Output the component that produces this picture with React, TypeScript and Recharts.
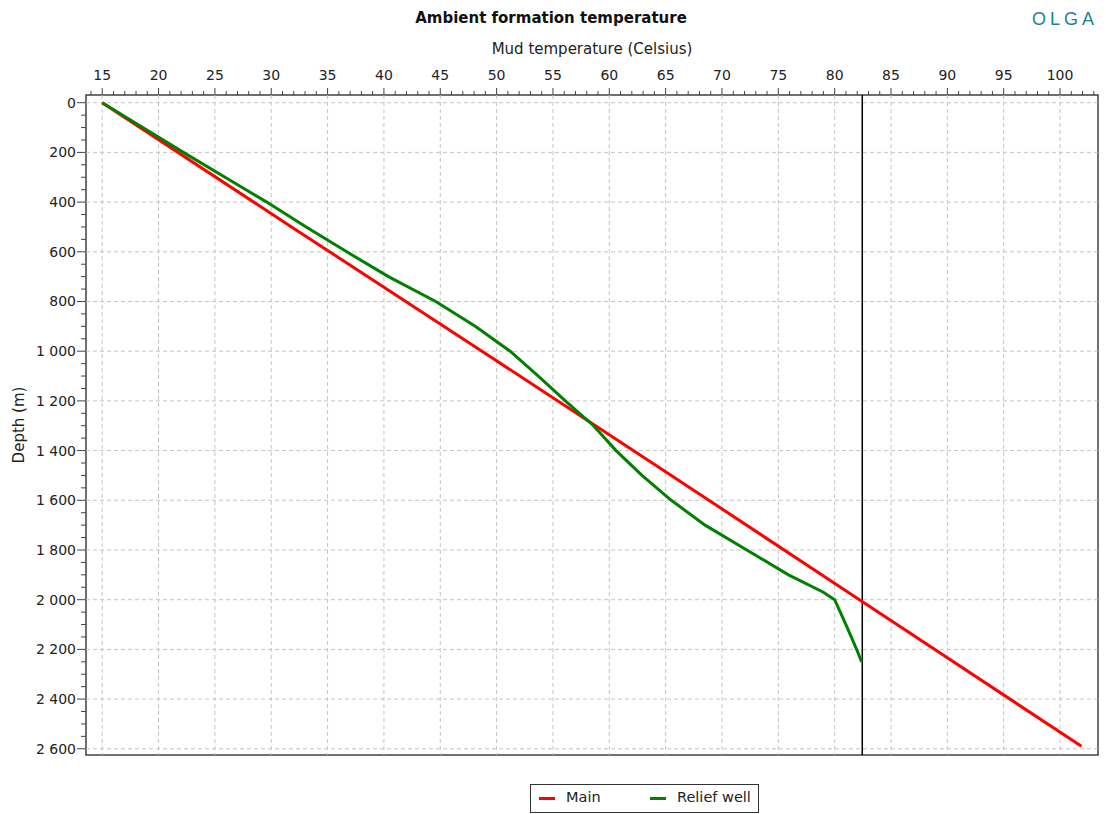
import React from "react";
import {
  ScatterChart,
  Scatter,
  XAxis,
  YAxis,
  ReferenceLine,
  ReferenceArea,
  Legend,
  Label,
} from "recharts";

// Main well: depth (m) vs ambient formation temperature (C)
const mainDepth = [0, 500, 1000, 1500, 2000, 2590];
const mainTemp = [15, 31.8, 48.7, 65.5, 82.2, 101.9];

// Relief well
const reliefDepth = [
  0, 100, 200, 300, 400, 500, 600, 700, 800, 900, 1000, 1100, 1200, 1300,
  1400, 1500, 1600, 1700, 1800, 1900, 1970, 2000, 2100, 2200, 2250,
];
const reliefTemp = [
  15, 18.6, 22.2, 25.9, 29.6, 33.1, 36.7, 40.4, 44.6, 48.1, 51.2, 53.7, 56.1,
  58.6, 60.6, 62.9, 65.5, 68.5, 72.2, 75.9, 79.0, 80.0, 81.0, 81.95, 82.4,
];

const xMajorTicks = [15, 20, 25, 30, 35, 40, 45, 50, 55, 60, 65, 70, 75, 80, 85, 90, 95, 100];
const yMajorTicks = [0, 200, 400, 600, 800, 1000, 1200, 1400, 1600, 1800, 2000, 2200, 2400, 2600];
const markerTemp = 82.45;

const X_MIN = 13.56;
const X_MAX = 103.37;
const Y_MIN = -31;
const Y_MAX = 2625;

const xAllTicks: number[] = [];
for (let v = 14; v <= 103; v++) xAllTicks.push(v);
const yAllTicks: number[] = [];
for (let v = 0; v <= 2600; v += 50) yAllTicks.push(v);

const mainData = mainDepth.map((d, i) => ({ depth: d, temp: mainTemp[i] }));
const reliefData = reliefDepth.map((d, i) => ({ depth: d, temp: reliefTemp[i] }));

const FONT = '"DejaVu Sans", Verdana, sans-serif';
const TEXT = "#222";

const fmtDepth = (n: number) =>
  n >= 1000 ? `${Math.floor(n / 1000)} ${String(n % 1000).padStart(3, "0")}` : String(n);

function XTick(props: any) {
  const { x, y, payload } = props;
  const v = payload.value;
  const axisY = y + 8;
  const major = v % 5 === 0;
  return (
    <g>
      <line x1={x} x2={x} y1={axisY} y2={axisY - (major ? 7 : 4)} stroke="#444" />
      {major && (
        <text x={x} y={axisY - 15} textAnchor="middle" fontSize={14} fill={TEXT} fontFamily={FONT}>
          {v}
        </text>
      )}
    </g>
  );
}

function YTick(props: any) {
  const { x, y, payload } = props;
  const v = payload.value;
  const axisX = x + 10;
  const major = v % 200 === 0;
  return (
    <g>
      <line x1={axisX} x2={axisX - (major ? 9 : 5)} y1={y} y2={y} stroke="#444" />
      {major && (
        <text x={axisX - 10} y={y + 5} textAnchor="end" fontSize={14} fill={TEXT} fontFamily={FONT}>
          {fmtDepth(v)}
        </text>
      )}
    </g>
  );
}

function DepthLabel(props: any) {
  const { viewBox } = props;
  const cx = 19;
  const cy = viewBox.y + viewBox.height / 2;
  return (
    <text
      x={cx}
      y={cy}
      transform={`rotate(-90 ${cx} ${cy})`}
      textAnchor="middle"
      dominantBaseline="central"
      fontSize={15}
      fill={TEXT}
      fontFamily={FONT}
    >
      Depth (m)
    </text>
  );
}

function LegendBox() {
  return (
    <div
      style={{
        position: "relative",
        width: 227,
        height: 27,
        border: "1px solid #333",
        fontFamily: FONT,
        fontSize: 14.5,
        color: TEXT,
        background: "#fff",
      }}
    >
      <div style={{ position: "absolute", left: 8, top: 12, width: 16, height: 3, background: "#ff0000" }} />
      <span style={{ position: "absolute", left: 35, top: 4 }}>Main</span>
      <div style={{ position: "absolute", left: 119, top: 12, width: 16, height: 3, background: "#008000" }} />
      <span style={{ position: "absolute", left: 146, top: 4 }}>Relief well</span>
    </div>
  );
}

export default function App() {
  return (
    <div style={{ position: "absolute", left: 0, top: 0, width: 1106, height: 814, background: "#fff" }}>
      <div
        style={{
          position: "absolute",
          left: 0,
          width: 1102,
          top: 9,
          textAlign: "center",
          fontFamily: FONT,
          fontWeight: "bold",
          fontSize: 15,
          color: "#111",
        }}
      >
        Ambient formation temperature
      </div>
      <div
        style={{
          position: "absolute",
          left: 1032,
          top: 9,
          fontFamily: '"Liberation Sans", Arial, sans-serif',
          fontSize: 18,
          letterSpacing: 4,
          color: "#1f7f8f",
        }}
      >
        OLGA
      </div>
      <ScatterChart
        width={1106}
        height={814}
        margin={{ top: 35, right: 8, bottom: 30, left: 10 }}
        style={{ fontFamily: FONT }}
      >
        <XAxis
          type="number"
          dataKey="temp"
          orientation="top"
          domain={[X_MIN, X_MAX]}
          ticks={xAllTicks}
          interval={0}
          allowDataOverflow
          height={60}
          axisLine={false}
          tickLine={false}
          tickSize={0}
          tickMargin={8}
          tick={<XTick />}
        >
          <Label
            value="Mud temperature (Celsius)"
            position="insideTop"
            offset={8}
            fontSize={15}
            fill={TEXT}
            fontFamily={FONT}
          />
        </XAxis>
        <YAxis
          type="number"
          dataKey="depth"
          reversed
          domain={[Y_MIN, Y_MAX]}
          ticks={yAllTicks}
          interval={0}
          allowDataOverflow
          width={76}
          axisLine={false}
          tickLine={false}
          tickSize={0}
          tickMargin={10}
          tick={<YTick />}
        >
          <Label content={<DepthLabel />} />
        </YAxis>

        {xMajorTicks.map((v) => (
          <ReferenceLine key={`gx${v}`} x={v} stroke="#c4c4c4" strokeDasharray="4 3" />
        ))}
        {yMajorTicks.map((v) => (
          <ReferenceLine key={`gy${v}`} y={v} stroke="#c4c4c4" strokeDasharray="4 3" />
        ))}

        <Scatter
          name="Main"
          data={mainData}
          fill="#ff0000"
          line={{ stroke: "#ff0000", strokeWidth: 3 }}
          shape={() => <g />}
          legendType="line"
          isAnimationActive={false}
        />
        <Scatter
          name="Relief well"
          data={reliefData}
          fill="#008000"
          line={{ stroke: "#008000", strokeWidth: 3 }}
          shape={() => <g />}
          legendType="line"
          isAnimationActive={false}
        />

        <ReferenceLine x={markerTemp} stroke="#000" strokeWidth={1.5} />
        <ReferenceArea
          x1={X_MIN}
          x2={X_MAX}
          y1={Y_MIN}
          y2={Y_MAX}
          fill="none"
          stroke="#404040"
          strokeWidth={1.5}
          ifOverflow="visible"
        />

        <Legend
          verticalAlign="bottom"
          content={<LegendBox />}
          wrapperStyle={{ left: 530, top: 784, bottom: "auto", width: 229, height: 29 }}
        />
      </ScatterChart>
    </div>
  );
}
